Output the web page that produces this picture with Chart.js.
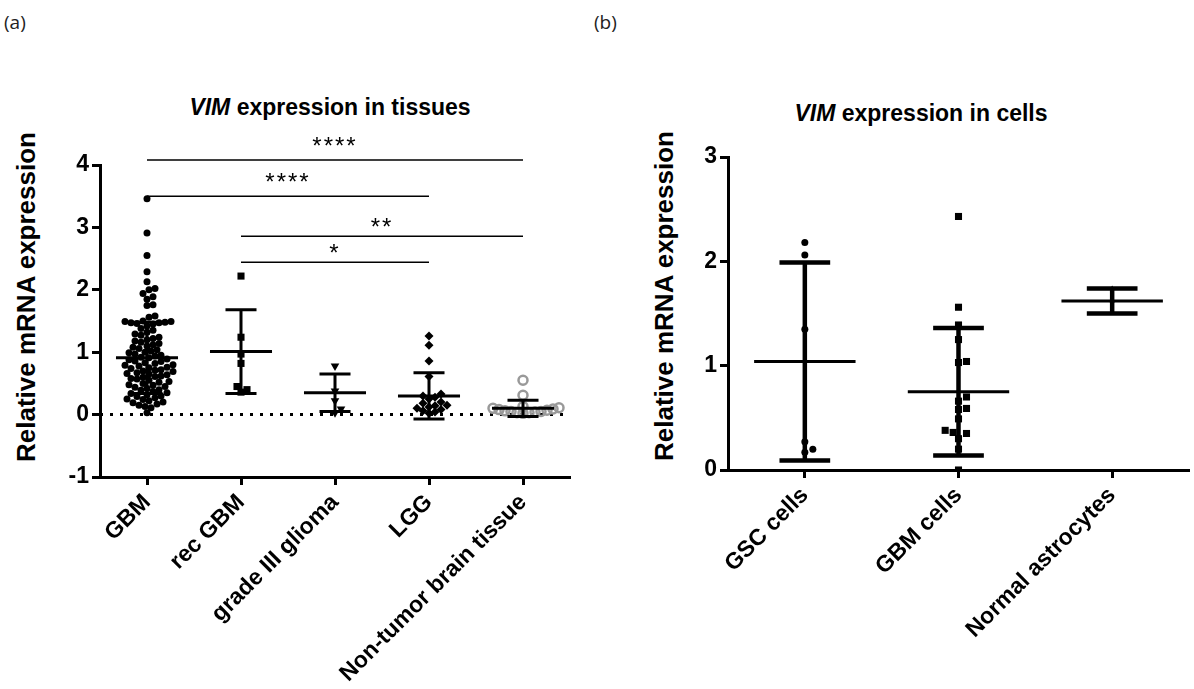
<!DOCTYPE html>
<html>
<head>
<meta charset="utf-8">
<script src="https://cdn.jsdelivr.net/npm/chart.js@4.4.1/dist/chart.umd.min.js"></script>
<style>
  body { margin: 0; background: #fff; width: 1194px; height: 689px; overflow: hidden; position: relative; font-family: "Liberation Sans", Arial, sans-serif; }
  .tag { position: absolute; top: 9px; font-family: "Open Sans", sans-serif; font-size: 19px; color: #222; }
  .title { position: absolute; font-weight: bold; font-size: 23px; color: #000; white-space: nowrap; transform: translateX(-50%); }
  .ytitle { position: absolute; font-weight: bold; font-size: 26px; color: #000; white-space: nowrap; transform: translate(-50%, -50%) rotate(-90deg); }
  .wrap { position: absolute; top: 0; height: 689px; }
</style>
</head>
<body>
<div class="tag" style="left:4px">(a)</div>
<div class="tag" style="left:594px">(b)</div>
<div class="title" style="left:330px;top:94px"><i>VIM</i> expression in tissues</div>
<div class="title" style="left:921px;top:100px"><i>VIM</i> expression in cells</div>
<div class="ytitle" style="left:26px;top:297px">Relative mRNA expression</div>
<div class="ytitle" style="left:664px;top:296px">Relative mRNA expression</div>
<div class="wrap" style="left:0;width:600px"><canvas id="chartA"></canvas></div>
<div class="wrap" style="left:590px;width:604px"><canvas id="chartB"></canvas></div>
<script>
// (a) tissues
const tissueGroups = ['GBM', 'rec GBM', 'grade III glioma', 'LGG', 'Non-tumor brain tissue'];
const gbm = [
  3.46, 2.91, 2.55, 2.29, 2.13, 2.02, 2.00, 1.94, 1.89, 1.85, 1.76, 1.75,
  1.58, 1.56, 1.50, 1.49, 1.49, 1.48, 1.47, 1.47, 1.46, 1.45, 1.42,
  1.38, 1.35, 1.32, 1.29, 1.27, 1.24, 1.22, 1.20, 1.18, 1.16, 1.14, 1.12,
  1.10, 1.08, 1.06, 1.04, 1.02, 1.00, 0.99, 0.97, 0.95, 0.94, 0.92, 0.91,
  0.89, 0.88, 0.86, 0.85, 0.83, 0.82, 0.80, 0.79, 0.78, 0.76, 0.75, 0.74,
  0.72, 0.71, 0.70, 0.69, 0.67, 0.66, 0.65, 0.64, 0.62, 0.61, 0.60, 0.58,
  0.57, 0.55, 0.53, 0.52, 0.50, 0.48, 0.47, 0.45, 0.44, 0.42, 0.40, 0.39,
  0.37, 0.35, 0.34, 0.32, 0.30, 0.29, 0.27, 0.25, 0.24, 0.22, 0.20, 0.19,
  0.17, 0.15, 0.13, 0.11, 0.03
];
const recGbm = [2.22, 1.24, 0.97, 0.82, 0.45, 0.40, 0.36];
const gradeIII = [0.78, 0.38, 0.22, 0.09, 0.03];
const lgg = [1.26, 1.11, 0.86, 0.61, 0.33, 0.30, 0.28, 0.25, 0.20, 0.18, 0.15, 0.14, 0.12, 0.10, 0.08, 0.06, 0.04, 0.02];
const nonTumor = [0.55, 0.31, 0.13, 0.11, 0.10, 0.09, 0.08, 0.07, 0.06, 0.05, 0.05, 0.04, 0.03, 0.03, 0.02];
const tissueMean = [0.91, 1.01, 0.35, 0.30, 0.10];
const tissueSD = [0.57, 0.67, 0.30, 0.37, 0.13];
const tissueTicks = [-1, 0, 1, 2, 3, 4];
// significance brackets
const sigFrom = [0, 0, 1, 1];
const sigTo = [4, 3, 4, 3];
const sigLevel = [4.08, 3.50, 2.86, 2.44];
const sigText = ['****', '****', '**', '*'];

// (b) cells
const cellGroups = ['GSC cells', 'GBM cells', 'Normal astrocytes'];
const gscCells = [2.18, 2.06, 1.35, 0.27, 0.20, 0.17];
const gbmCells = [2.43, 1.56, 1.39, 1.25, 1.04, 1.03, 0.70, 0.66, 0.59, 0.58, 0.49, 0.38, 0.36, 0.35, 0.30, 0.20, 0.00];
const astrocytes = [1.74, 1.62, 1.50];
const cellMean = [1.04, 0.75, 1.62];
const cellSD = [0.95, 0.61, 0.12];
const cellTicks = [0, 1, 2, 3];

Chart.defaults.font.family = '"Liberation Sans", Arial, sans-serif';
Chart.defaults.color = '#000';

function segs(list) {
  const out = [];
  list.forEach(function (s) {
    out.push({ x: s[0], y: s[1] }, { x: s[2], y: s[3] }, { x: s[2], y: null });
  });
  return out;
}
function meanSegs(mean, half) {
  return segs(mean.map((m, i) => [i - half, m, i + half, m]));
}
function barSegs(mean, sd) {
  return segs(mean.map((m, i) => [i, m - sd[i], i, m + sd[i]]));
}
function capSegs(mean, sd, half) {
  return segs(mean.flatMap((m, i) => [
    [i - half, m + sd[i], i + half, m + sd[i]],
    [i - half, m - sd[i], i + half, m - sd[i]]
  ]));
}
function lineSet(data, width, extra) {
  return Object.assign({
    data: data, showLine: true, borderColor: '#000', backgroundColor: '#000',
    borderWidth: width, pointRadius: 0, borderCapStyle: 'butt', spanGaps: false
  }, extra || {});
}
function ptSet(vals, i, style) {
  return Object.assign({
    data: vals.map(v => ({ x: i, y: v })),
    pointStyle: 'circle', pointRadius: 3.5, pointBorderWidth: 0,
    pointBackgroundColor: '#000', pointBorderColor: '#000'
  }, style || {});
}

// simple beeswarm: shift points sideways (in pixels) so they don't overlap
function swarm(values, xs, ys, gap) {
  const pxPerCat = Math.abs(xs.getPixelForValue(1) - xs.getPixelForValue(0));
  const placed = [];
  const offs = new Array(values.length).fill(0);
  const order = values.map((v, i) => i).sort((a, b) => values[a] - values[b]);
  order.forEach(function (i) {
    const py = ys.getPixelForValue(values[i]);
    for (let k = 0; k < 400; k++) {
      const dx = (k % 2 ? 1 : -1) * Math.ceil(k / 2) * gap / 3;
      const hit = placed.some(p => Math.hypot(p.x - dx, p.y - py) < gap);
      if (!hit) {
        placed.push({ x: dx, y: py });
        offs[i] = dx / pxPerCat;
        break;
      }
    }
  });
  return offs;
}

function axisX(groups, height) {
  return {
    type: 'linear', min: -0.5, max: groups.length - 0.5,
    afterBuildTicks: s => { s.ticks = groups.map((g, i) => ({ value: i })); },
    afterFit: s => { s.height = height; },
    ticks: {
      callback: v => groups[v], autoSkip: false, minRotation: 45, maxRotation: 45,
      font: { size: 23, weight: 'bold' }, color: '#000', padding: 4
    },
    grid: { drawOnChartArea: false, tickLength: 8, tickWidth: 3, color: '#000' },
    border: { color: '#000', width: 3 }
  };
}
function axisY(min, max, tickVals, width) {
  return {
    min: min, max: max,
    afterBuildTicks: s => { s.ticks = tickVals.map(v => ({ value: v })); },
    afterFit: s => { s.width = width; },
    ticks: { font: { size: 23, weight: 'bold' }, color: '#000', padding: 3 },
    grid: { drawOnChartArea: false, tickLength: 8, tickWidth: 3, color: '#000' },
    border: { color: '#000', width: 3 }
  };
}

const starsPlugin = {
  id: 'stars',
  afterDatasetsDraw(chart) {
    const ctx = chart.ctx, x = chart.scales.x, y = chart.scales.y;
    ctx.save();
    ctx.font = '24px "Liberation Sans", Arial, sans-serif';
    ctx.letterSpacing = '2px';
    ctx.textAlign = 'center';
    ctx.fillStyle = '#000';
    sigText.forEach(function (t, i) {
      const cx = x.getPixelForValue((sigFrom[i] + sigTo[i]) / 2);
      const cy = y.getPixelForValue(sigLevel[i]);
      ctx.fillText(t, cx, cy - (t.length > 2 ? 6 : 1));
    });
    ctx.restore();
  }
};

const tissueSets = [gbm, recGbm, gradeIII, lgg, nonTumor];
const tissueStyles = [
  {},
  { pointStyle: 'rect', pointRadius: 5 },
  { pointStyle: 'triangle', pointRadius: 5, pointRotation: 180 },
  { pointStyle: 'rectRot', pointRadius: 4.5 },
  { pointStyle: 'circle', pointRadius: 4.5, pointBorderWidth: 2.5, pointBorderColor: '#999999', pointBackgroundColor: 'rgba(0,0,0,0)' }
];

const chartA = new Chart(document.getElementById('chartA'), {
  type: 'scatter',
  data: {
    datasets: [
      lineSet(meanSegs(tissueMean, 0.33).concat(barSegs(tissueMean, tissueSD), capSegs(tissueMean, tissueSD, 0.165)), 3),
      lineSet(segs(sigLevel.map((l, i) => [sigFrom[i], l, sigTo[i], l])), 1.5, { clip: false }),
    ].concat(
      tissueSets.map((vals, i) => ptSet(vals, i, tissueStyles[i])),
      [lineSet([{ x: -0.5, y: 0 }, { x: 4.5, y: 0 }], 3, { borderDash: [3, 7] })]
    )
  },
  options: {
    responsive: true, maintainAspectRatio: false, animation: false, events: [],
    layout: { padding: { left: 0, top: 165, right: 30, bottom: 0 } },
    plugins: { legend: { display: false }, tooltip: { enabled: false } },
    scales: {
      x: axisX(tissueGroups, 212),
      y: axisY(-1, 4, tissueTicks, 100)
    }
  },
  plugins: [starsPlugin]
});

const cellSets = [gscCells, gbmCells, astrocytes];
const cellStyles = [
  {},
  { pointStyle: 'rect', pointRadius: 5 },
  { pointStyle: 'triangle', pointRadius: 3 }
];

const chartB = new Chart(document.getElementById('chartB'), {
  type: 'scatter',
  data: {
    datasets: [
      lineSet(meanSegs(cellMean, 0.33), 3),
      lineSet(barSegs(cellMean, cellSD), 4.5),
      lineSet(capSegs(cellMean, cellSD, 0.165), 4.5)
    ].concat(cellSets.map((vals, i) => ptSet(vals, i, cellStyles[i])))
  },
  options: {
    responsive: true, maintainAspectRatio: false, animation: false, events: [],
    layout: { padding: { left: 0, top: 157, right: 0, bottom: 0 } },
    plugins: { legend: { display: false }, tooltip: { enabled: false } },
    scales: {
      x: axisX(cellGroups, 219),
      y: axisY(0, 3, cellTicks, 138)
    }
  }
});

// second pass: spread the dots now that the scales are known
tissueSets.forEach(function (vals, i) {
  const off = swarm(vals, chartA.scales.x, chartA.scales.y, 6);
  chartA.data.datasets[2 + i].data = vals.map((v, j) => ({ x: i + off[j], y: v }));
});
chartA.update('none');

cellSets.forEach(function (vals, i) {
  const off = swarm(vals, chartB.scales.x, chartB.scales.y, 8);
  chartB.data.datasets[3 + i].data = vals.map((v, j) => ({ x: i + off[j], y: v }));
});
chartB.update('none');
</script>
</body>
</html>
